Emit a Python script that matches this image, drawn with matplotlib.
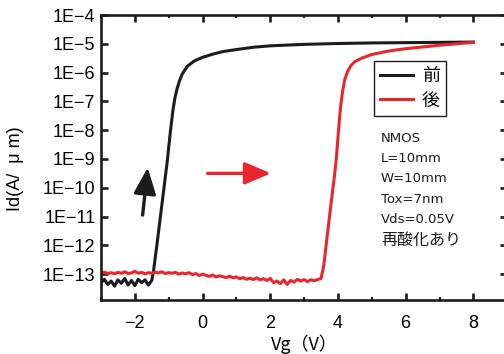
#!/usr/bin/env python
"""Id-Vg transfer curve of an NMOS before/after reoxidation (log scale)."""

import matplotlib

matplotlib.use("Agg")
import matplotlib.pyplot as plt
from matplotlib.ticker import FixedLocator, FuncFormatter, MultipleLocator
import numpy as np

FONTS = ["Liberation Sans", "Noto Sans CJK JP", "DejaVu Sans"]
plt.rcParams["font.family"] = FONTS

BLACK = "#1c1c1c"
RED = "#e8262c"

# before: gate voltage [V] and log10(Id [A/um])
VG_BEFORE = [
    -3.0, -2.9, -2.8, -2.7, -2.6, -2.5, -2.4, -2.3, -2.2, -2.1, -2.0,
    -1.9, -1.8, -1.7, -1.6, -1.5,
    -1.45, -1.35, -1.25, -1.15, -1.05, -0.95, -0.88, -0.82, -0.75, -0.68, -0.6,
    -0.45, -0.25, 0.0, 0.3, 0.6, 1.0, 1.5, 2.0, 3.0, 4.0, 5.0, 6.0, 7.0, 8.0,
]
LOG_ID_BEFORE = [
    -13.30, -13.18, -13.36, -13.24, -13.42, -13.20, -13.32, -13.15, -13.38,
    -13.22, -13.40, -13.18, -13.30, -13.20, -13.38, -13.22,
    -12.90, -12.00, -11.05, -10.10, -9.15, -8.05, -7.35, -6.90, -6.55, -6.28, -6.05,
    -5.78, -5.60, -5.47, -5.36, -5.27, -5.20, -5.12, -5.07, -5.02, -4.99,
    -4.97, -4.96, -4.95, -4.94,
]

# after reoxidation
VG_AFTER = [
    -3.0, -2.9, -2.8, -2.7, -2.6, -2.5, -2.4, -2.3, -2.2, -2.1, -2.0,
    -1.9, -1.8, -1.7, -1.6, -1.5, -1.4, -1.3, -1.2, -1.1, -1.0,
    -0.9, -0.8, -0.7, -0.6, -0.5, -0.4, -0.3, -0.2, -0.1, 0.0,
    0.1, 0.2, 0.3, 0.4, 0.5, 0.6, 0.7, 0.8, 0.9, 1.0,
    1.1, 1.2, 1.3, 1.4, 1.5, 1.6, 1.7, 1.8, 1.9, 2.0,
    2.1, 2.2, 2.3, 2.4, 2.5, 2.6, 2.7, 2.8, 2.9, 3.0,
    3.1, 3.2, 3.3, 3.4, 3.5,
    3.58, 3.65, 3.72, 3.8, 3.88, 3.95, 4.02, 4.08, 4.14, 4.2, 4.28, 4.38,
    4.5, 4.7, 5.0, 5.5, 6.0, 6.5, 7.0, 7.5, 8.0,
]
LOG_ID_AFTER = [
    -12.97, -12.93, -12.98, -12.95, -12.99, -12.94, -12.97, -12.92, -12.98, -12.96, -12.90,
    -12.97, -12.94, -12.99, -12.95, -12.97, -12.93, -12.96, -12.92, -12.98, -12.95,
    -12.97, -12.94, -13.00, -12.96, -12.99, -12.95, -13.02, -12.98, -13.05, -13.00,
    -13.04, -13.08, -13.03, -13.10, -13.06, -13.09, -13.12, -13.07, -13.13, -13.10,
    -13.16, -13.12, -13.18, -13.14, -13.19, -13.13, -13.20, -13.16, -13.22, -13.15,
    -13.30, -13.24, -13.33, -13.20, -13.36, -13.22, -13.28, -13.18, -13.24, -13.19,
    -13.26, -13.20, -13.23, -13.19, -13.15,
    -12.70, -12.00, -11.30, -10.50, -9.75, -9.00, -7.95, -7.15, -6.62, -6.25, -5.97, -5.76,
    -5.62, -5.50, -5.37, -5.25, -5.17, -5.11, -5.05, -5.00, -4.95,
]

LEGEND_LABELS = ["前", "後"]
CONDITIONS = ["NMOS", "L=10mm", "W=10mm", "Tox=7nm", "Vds=0.05V", "再酸化あり"]
Y_DECADES = list(range(-13, -3))


def decade_label(value, _pos):
    exponent = int(round(np.log10(value)))
    return f"1E\u2212{-exponent}"


def main() -> None:
    fig = plt.figure(figsize=(5.04, 3.54), dpi=100)
    ax = fig.add_axes([0.2004, 0.1525, 0.806, 0.8051])

    ax.plot(VG_BEFORE, 10.0 ** np.asarray(LOG_ID_BEFORE), color=BLACK, lw=2.2,
            label=LEGEND_LABELS[0], solid_joinstyle="round")
    ax.plot(VG_AFTER, 10.0 ** np.asarray(LOG_ID_AFTER), color=RED, lw=2.2,
            label=LEGEND_LABELS[1], solid_joinstyle="round")

    ax.set_yscale("log")
    ax.set_xlim(-3.0, 9.0)
    ax.set_ylim(10 ** -13.9, 1e-4)

    ax.xaxis.set_major_locator(MultipleLocator(2))
    ax.xaxis.set_minor_locator(MultipleLocator(1))
    ax.yaxis.set_major_locator(FixedLocator([10.0 ** d for d in Y_DECADES]))
    ax.yaxis.set_minor_locator(FixedLocator([]))
    ax.yaxis.set_major_formatter(FuncFormatter(decade_label))
    ax.xaxis.set_major_formatter(FuncFormatter(lambda v, _p: f"{v:.0f}".replace("-", "\u2212")))

    for spine in ax.spines.values():
        spine.set_linewidth(1.9)
        spine.set_color(BLACK)
    ax.tick_params(which="both", direction="in", top=True, right=True,
                   color=BLACK, labelsize=13)
    ax.tick_params(which="major", length=5, width=1.9)
    ax.tick_params(which="minor", length=2, width=1.6)
    ax.tick_params(axis="x", pad=11)
    ax.tick_params(axis="y", pad=4)

    ax.set_xlabel("Vg（V）", fontsize=13, family=["Noto Sans CJK JP"])
    ax.xaxis.set_label_coords(0.5, -0.12)
    ax.set_ylabel("Id(A/  μ m)", fontsize=13)
    ax.yaxis.set_label_coords(-0.19, 0.46)

    # sweep-direction arrows
    head = "-|>,head_length=0.8,head_width=0.34"
    ax.annotate("", xy=(-1.62, 10 ** -9.3), xytext=(-1.77, 10 ** -10.95),
                arrowprops=dict(arrowstyle=head, color=BLACK, lw=2.4,
                                mutation_scale=20, shrinkA=0, shrinkB=0))
    ax.annotate("", xy=(2.02, 10 ** -9.5), xytext=(0.15, 10 ** -9.5),
                arrowprops=dict(arrowstyle=head, color=RED, lw=2.4,
                                mutation_scale=20, shrinkA=0, shrinkB=0))

    leg = ax.legend(loc="upper left", bbox_to_anchor=(374 / 504, 1 - 61 / 354),
                    bbox_transform=fig.transFigure, fancybox=False,
                    edgecolor=BLACK, framealpha=1.0, handlelength=1.8,
                    handletextpad=0.5, borderpad=0.35, labelspacing=0.35,
                    borderaxespad=0, prop={"family": ["Noto Sans CJK JP"], "size": 13})
    leg.get_frame().set_linewidth(1.0)

    # device conditions; the last line is Japanese and set a bit larger
    for i, line in enumerate(CONDITIONS):
        size = 11.5 if i == len(CONDITIONS) - 1 else 9.5
        fig.text(381 / 504, 1 - (138 + 20.4 * i) / 354, line, fontsize=size,
                 family=["DejaVu Sans", "Noto Sans CJK JP"],
                 ha="left", va="center", color=BLACK)

    fig.savefig("out.png", dpi=100)
    plt.close(fig)


if __name__ == "__main__":
    main()
